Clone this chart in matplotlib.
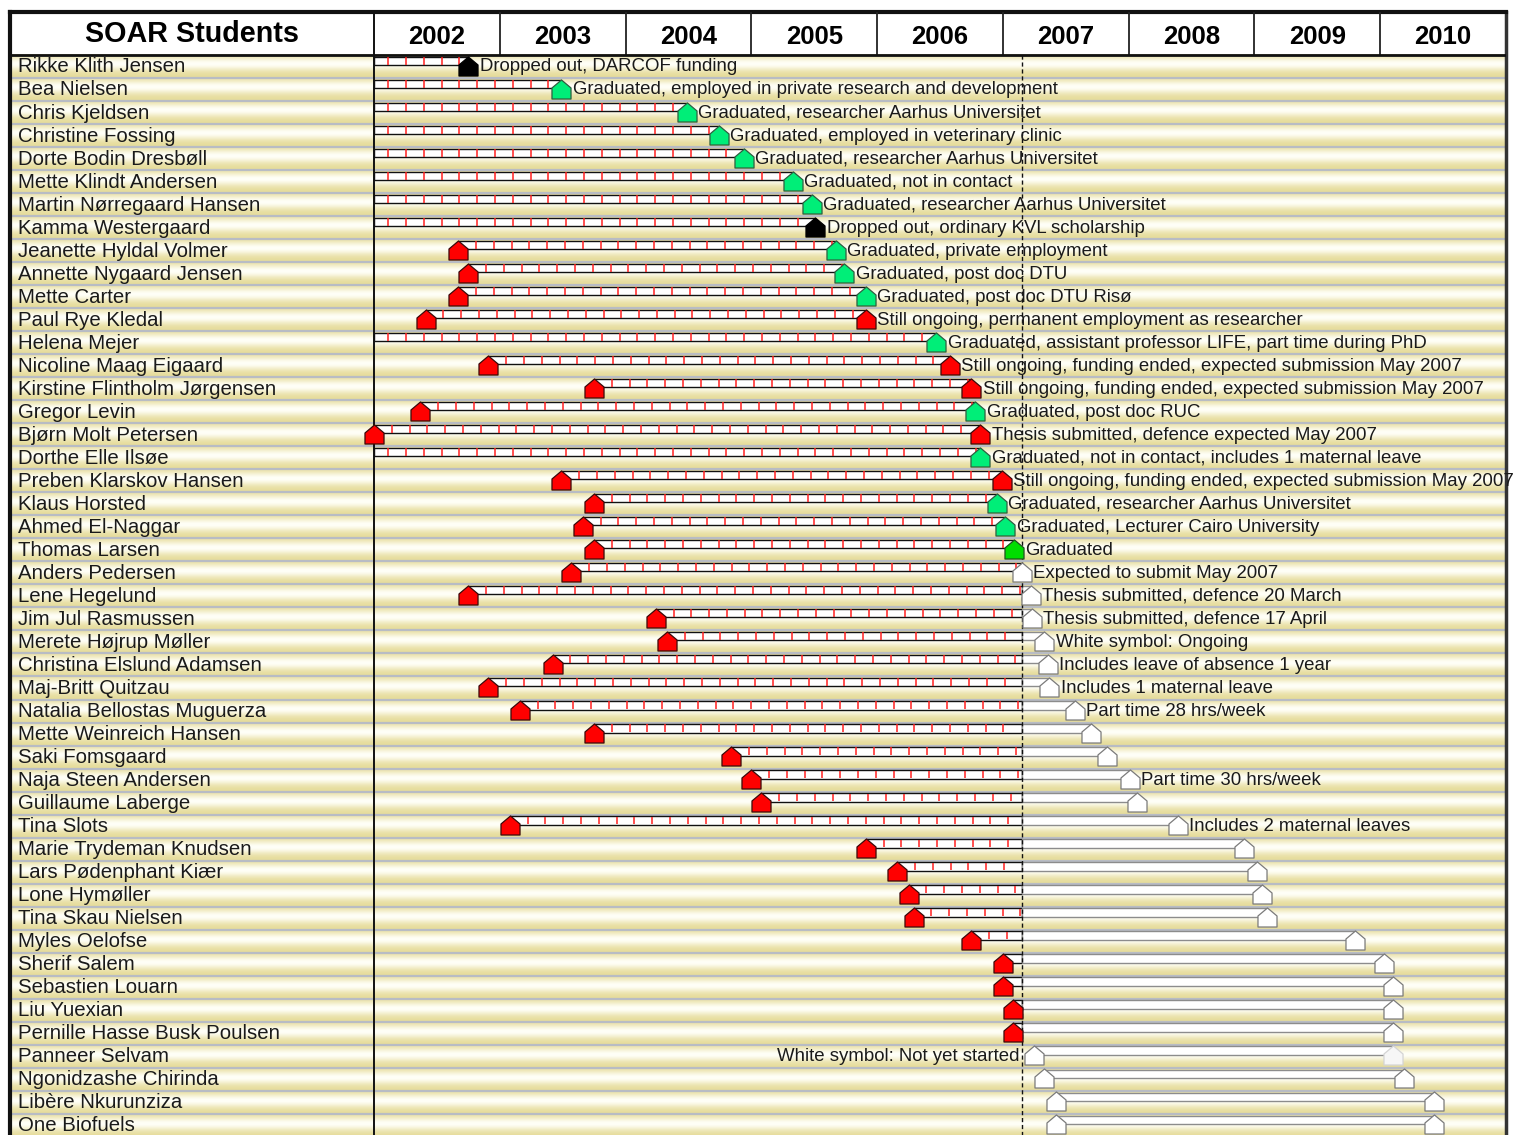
import matplotlib
matplotlib.use('Agg')
import matplotlib.pyplot as plt
import numpy as np
from matplotlib.path import Path

plt.rcParams['font.family'] = ['Liberation Sans', 'DejaVu Sans']

title = 'SOAR Students'
years = list(range(2002, 2011))
today = 2007.15

names = [
    'Rikke Klith Jensen', 'Bea Nielsen', 'Chris Kjeldsen', 'Christine Fossing',
    'Dorte Bodin Dresbøll', 'Mette Klindt Andersen', 'Martin Nørregaard Hansen',
    'Kamma Westergaard', 'Jeanette Hyldal Volmer', 'Annette Nygaard Jensen',
    'Mette Carter', 'Paul Rye Kledal', 'Helena Mejer', 'Nicoline Maag Eigaard',
    'Kirstine Flintholm Jørgensen', 'Gregor Levin', 'Bjørn Molt Petersen',
    'Dorthe Elle Ilsøe', 'Preben Klarskov Hansen', 'Klaus Horsted', 'Ahmed El-Naggar',
    'Thomas Larsen', 'Anders Pedersen', 'Lene Hegelund', 'Jim Jul Rasmussen',
    'Merete Højrup Møller', 'Christina Elslund Adamsen', 'Maj-Britt Quitzau',
    'Natalia Bellostas Muguerza', 'Mette Weinreich Hansen', 'Saki Fomsgaard',
    'Naja Steen Andersen', 'Guillaume Laberge', 'Tina Slots', 'Marie Trydeman Knudsen',
    'Lars Pødenphant Kiær', 'Lone Hymøller', 'Tina Skau Nielsen', 'Myles Oelofse',
    'Sherif Salem', 'Sebastien Louarn', 'Liu Yuexian', 'Pernille Hasse Busk Poulsen',
    'Panneer Selvam', 'Ngonidzashe Chirinda', 'Libère Nkurunziza', 'One Biofuels',
]

# None = started before 2002 (no start symbol)
starts = [
    None, None, None, None, None, None, None, None,
    2002.67, 2002.75, 2002.67, 2002.41, None, 2002.91, 2003.75, 2002.37,
    2002.00, None, 2003.49, 2003.75, 2003.66, 2003.75, 2003.57, 2002.75,
    2004.24, 2004.33, 2003.42, 2002.91, 2003.16, 2003.75, 2004.84, 2005.00,
    2005.08, 2003.08, 2005.91, 2006.16, 2006.25, 2006.29, 2006.75, 2007.00,
    2007.00, 2007.08, 2007.08, 2007.25, 2007.33, 2007.42, 2007.42,
]
start_kind = ['red'] * len(names)
start_kind[43:] = ['white'] * 4

ends = [
    2002.75, 2003.49, 2004.49, 2004.74, 2004.94, 2005.33, 2005.48, 2005.51,
    2005.67, 2005.74, 2005.91, 2005.91, 2006.47, 2006.58, 2006.75, 2006.78,
    2006.82, 2006.82, 2006.99, 2006.95, 2007.02, 2007.09, 2007.15, 2007.22,
    2007.23, 2007.33, 2007.36, 2007.37, 2007.57, 2007.70, 2007.83, 2008.01,
    2008.07, 2008.39, 2008.92, 2009.02, 2009.06, 2009.10, 2009.80, 2010.03,
    2010.10, 2010.10, 2010.10, 2010.10, 2010.19, 2010.43, 2010.43,
]
end_kind = [
    'black', 'green', 'green', 'green', 'green', 'green', 'green', 'black',
    'green', 'green', 'green', 'red', 'green', 'red', 'red', 'green',
    'red', 'green', 'red', 'green', 'green', 'green2', 'white', 'white',
    'white', 'white', 'white', 'white', 'white', 'white', 'white', 'white',
    'white', 'white', 'white', 'white', 'white', 'white', 'white', 'white',
    'white', 'white', 'white', 'faint', 'white', 'white', 'white',
]
notes = [
    'Dropped out, DARCOF funding',
    'Graduated, employed in private research and development',
    'Graduated, researcher Aarhus Universitet',
    'Graduated, employed in veterinary clinic',
    'Graduated, researcher Aarhus Universitet',
    'Graduated, not in contact',
    'Graduated, researcher Aarhus Universitet',
    'Dropped out, ordinary KVL scholarship',
    'Graduated, private employment',
    'Graduated, post doc DTU',
    'Graduated, post doc DTU Risø',
    'Still ongoing, permanent employment as researcher',
    'Graduated, assistant professor LIFE, part time during PhD',
    'Still ongoing, funding ended, expected submission May 2007',
    'Still ongoing, funding ended, expected submission May 2007',
    'Graduated, post doc RUC',
    'Thesis submitted, defence expected May 2007',
    'Graduated, not in contact, includes 1 maternal leave',
    'Still ongoing, funding ended, expected submission May 2007',
    'Graduated, researcher Aarhus Universitet',
    'Graduated, Lecturer Cairo University',
    'Graduated',
    'Expected to submit May 2007',
    'Thesis submitted, defence 20 March',
    'Thesis submitted, defence 17 April',
    'White symbol: Ongoing',
    'Includes leave of absence 1 year',
    'Includes 1 maternal leave',
    'Part time 28 hrs/week',
    '', '',
    'Part time 30 hrs/week',
    '',
    'Includes 2 maternal leaves',
    '', '', '', '', '', '', '', '', '', '', '', '', '',
]
left_note_row = 43
left_note = 'White symbol: Not yet started'

# styling
fill = {'red': '#FF0000', 'green': '#00EE78', 'green2': '#00DD00', 'black': '#000000',
        'white': '#FFFFFF', 'faint': '#F6F6F6'}
edge = {'red': '#3A0A0A', 'green': '#2E5E40', 'green2': '#205020', 'black': '#000000',
        'white': '#7A7A7A', 'faint': '#D4D4D4'}
house = Path([(-0.5, -0.5), (0.5, -0.5), (0.5, 0.08), (0, 0.5), (-0.5, 0.08), (-0.5, -0.5)],
             [Path.MOVETO] + [Path.LINETO] * 4 + [Path.CLOSEPOLY])
tick_step = 0.1415
n = len(names)
xmin, xmax = 2002 - 364 / 125.8, 2011
ytop, ybot = -1.868, 46.92

fig = plt.figure(figsize=(15.14, 11.35), dpi=100)
ax = fig.add_axes([10 / 1514, 0, 1496 / 1514, 1 - 12 / 1135])
ax.set_xlim(xmin, xmax)
ax.set_ylim(ybot, ytop)
ax.set_xticks([])
ax.set_yticks([])
ax.set_facecolor('white')

# row background gradient
t = np.linspace(0, 1, 40)
prof = np.exp(-((t - 0.42) / 0.3) ** 2)
khaki = np.array([0.90, 0.86, 0.60])
light = np.array([1.0, 1.0, 0.97])
row_img = khaki[None, :] + (light - khaki)[None, :] * prof[:, None]
img = np.tile(row_img, (n, 1))[:, None, :]
ax.imshow(img, extent=(xmin, xmax, n, 0), aspect='auto', interpolation='bilinear', zorder=0)
ax.hlines(np.arange(1, n), xmin, xmax, color='#B8BCC4', lw=1.6, zorder=1)

# bars
for i in range(n):
    s = starts[i]
    s0 = s if s is not None else 2002 - 0.2 * tick_step
    e = ends[i]
    y = i + 0.255
    past_end = min(e, today)
    if past_end > max(s0, 2002):
        left = max(s0, 2002)
        ax.barh(y, past_end - left, left=left, height=0.36, color='white',
                edgecolor='#111111', lw=1.0, zorder=2)
        tk = np.arange(s0 + tick_step, past_end - 0.01, tick_step)
        tk = tk[tk > 2002.01]
        ax.vlines(tk, y - 0.17, y + 0.17, color='#FF2020', lw=1.1, zorder=3)
    if e > today:
        left = max(s0, today)
        ax.barh(y, e - left, left=left, height=0.36, color='white',
                edgecolor='#8C8C8C', lw=1.0, zorder=2)
    if s is not None:
        k = start_kind[i]
        ax.plot(s, i + 0.46, marker=house, ms=13.7, mfc=fill[k], mec=edge[k], mew=0.9, zorder=5)
    k = end_kind[i]
    ax.plot(e, i + 0.46, marker=house, ms=13.7, mfc=fill[k], mec=edge[k], mew=0.9, zorder=5)
    if notes[i]:
        ax.text(e + 0.09, i + 0.52, notes[i], fontsize=13.45, va='center', ha='left',
                color='#1A1A1A', zorder=6)
    ax.text(xmin + 0.065, i + 0.52, names[i], fontsize=14.7, va='center', ha='left',
            color='#1A1A1A', zorder=6)

ax.text(today - 0.02, left_note_row + 0.52, left_note, fontsize=13.45, va='center', ha='right',
        color='#1A1A1A', zorder=6)

# today line
ax.vlines(today, 0, ybot, color='#111111', lw=1.0, linestyles=(0, (3, 2)), zorder=4)

# header
ax.text((xmin + 2002) / 2, ytop / 2 + 0.03, title, fontsize=20.7, fontweight='bold',
        ha='center', va='center')
for yr in years:
    ax.text(yr + 0.5, ytop / 2 + 0.15, str(yr), fontsize=18.5, fontweight='bold',
            ha='center', va='center')
ax.vlines(years[1:], ytop, 0, color='#222222', lw=1.3, zorder=4)
ax.vlines(2002, ytop, ybot, color='#111111', lw=1.4, zorder=4)
ax.hlines(0, xmin, xmax, color='#111111', lw=2.0, zorder=4)

for side in ['top', 'left']:
    ax.spines[side].set_linewidth(3)
    ax.spines[side].set_color('#111111')
ax.spines['right'].set_linewidth(2.5)
ax.spines['right'].set_color('#333333')
ax.spines['bottom'].set_visible(False)

fig.savefig('out.png', dpi=100)
